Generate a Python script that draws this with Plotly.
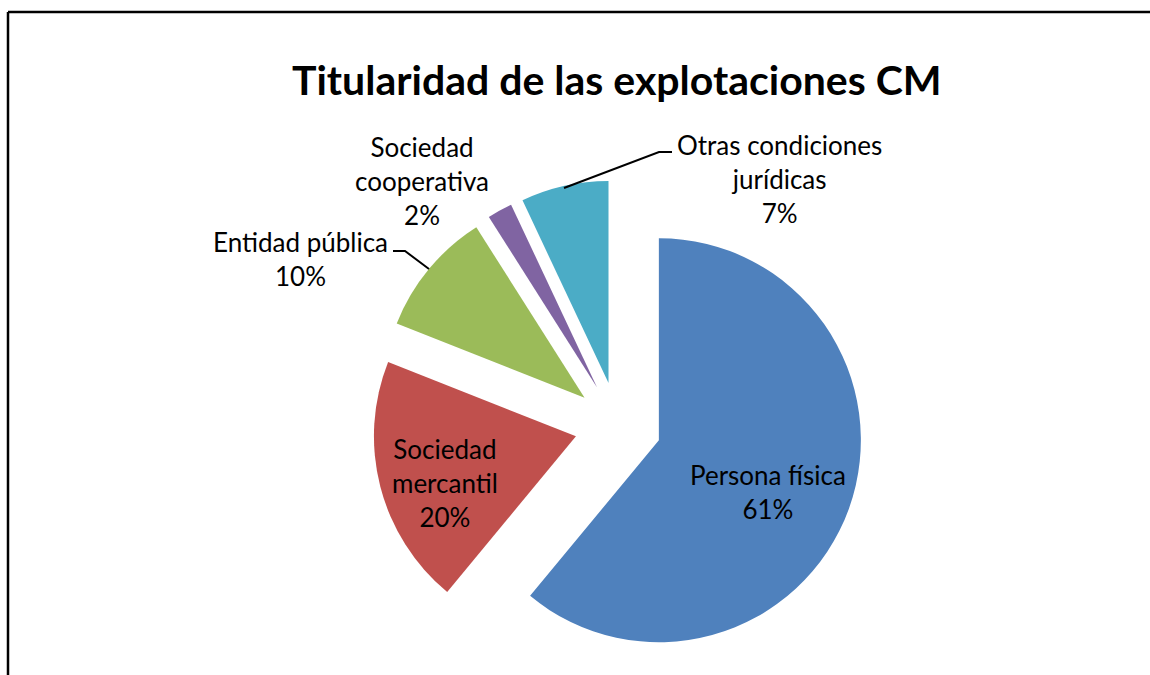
import plotly.graph_objects as go

# ---- data ----
categories = ["Persona física", "Sociedad mercantil", "Entidad pública",
              "Sociedad cooperativa", "Otras condiciones jurídicas"]
values = [61, 20, 10, 2, 7]
label_text = ["Persona física<br>61%", "Sociedad<br>mercantil<br>20%",
              "Entidad pública<br>10%", "Sociedad<br>cooperativa<br>2%",
              "Otras condiciones<br>jurídicas<br>7%"]
colors = ["#4F81BD", "#C0504D", "#9BBB59", "#8064A2", "#4BACC6"]

W, H = 1150, 675
FONT = "Lato"

def px(x):
    return x / W

def py(y):
    return 1 - y / H

# pie geometry (pixels)
cx, cy, R, PULL = 618.0, 425.5, 202.0, 0.215
half = R * (1 + PULL)

fig = go.Figure(go.Pie(
    labels=categories, values=values, sort=False, direction="clockwise",
    rotation=0, pull=[PULL] * len(values),
    marker=dict(colors=colors, line=dict(width=0)),
    textinfo="none", hoverinfo="label+percent", showlegend=False,
    domain=dict(x=[px(cx - half), px(cx + half)],
                y=[py(cy + half), py(cy - half)]),
))

# label placement (pixel centres of each text block)
label_pos = [(768, 492), (445, 483), (300, 259), (422, 181), (779, 179)]
for txt, (lx, ly) in zip(label_text, label_pos):
    fig.add_annotation(x=px(lx), y=py(ly), xref="paper", yref="paper",
                       text=txt, showarrow=False, xanchor="center",
                       yanchor="middle", align="center",
                       font=dict(family=FONT, size=26, color="black"))

# leader lines
leaders = [
    [(393, 251), (405, 251), (429, 269)],
    [(564, 188), (659, 152), (672, 152)],
]
for pts in leaders:
    path = "M " + " L ".join(f"{px(x)},{py(y)}" for x, y in pts)
    fig.add_shape(type="path", path=path, xref="paper", yref="paper",
                  line=dict(color="black", width=2))

# chart border (only top + left edges visible in the crop)
fig.add_shape(type="line", xref="paper", yref="paper",
              x0=px(8), x1=px(W), y0=py(12), y1=py(12),
              line=dict(color="black", width=2.5))
fig.add_shape(type="line", xref="paper", yref="paper",
              x0=px(8), x1=px(8), y0=py(12), y1=py(H),
              line=dict(color="black", width=2.5))

# title
fig.add_annotation(x=px(617), y=py(79), xref="paper", yref="paper",
                   text="<b>Titularidad de las explotaciones CM</b>",
                   showarrow=False, xanchor="center", yanchor="middle",
                   font=dict(family=FONT, size=41, color="black"))

fig.update_layout(width=W, height=H, margin=dict(l=0, r=0, t=0, b=0),
                  paper_bgcolor="white", plot_bgcolor="white")

fig.write_html(
    "out.html",
    post_script=(
        "document.body.style.margin='0';"
        "document.body.style.overflow='hidden';"
        "var s=document.createElement('style');"
        "s.innerHTML='.modebar-container{display:none !important;}';"
        "document.head.appendChild(s);"
    ),
)
